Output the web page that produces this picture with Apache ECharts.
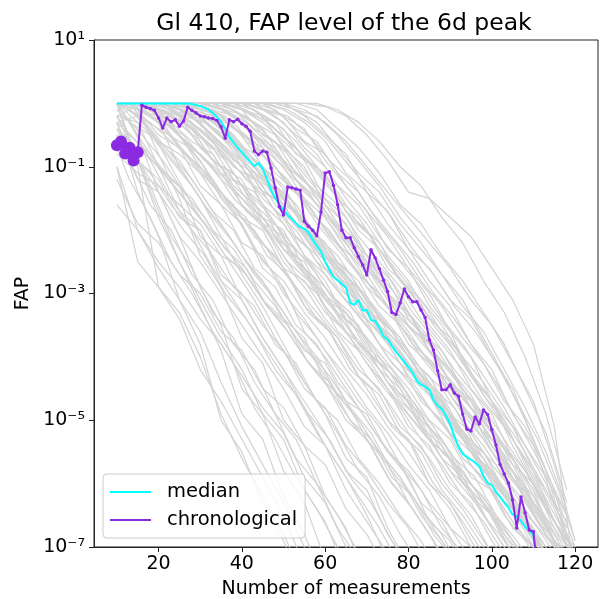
<!DOCTYPE html>
<html>
<head>
<meta charset="utf-8">
<script src="https://cdn.jsdelivr.net/npm/echarts@6/dist/echarts.min.js"></script>
<style>
html,body{margin:0;padding:0;background:#fff;}
#chart{width:606px;height:599px;}
</style>
</head>
<body>
<div id="chart"></div>
<script>
// ---- data (log10 of FAP) ----
const xTicks = [20, 40, 60, 80, 100, 120];
const yTicks = [-7, -5, -3, -1, 1];
const yTickLabels = ['10\u207B\u2077', '10\u207B\u2075', '10\u207B\u00B3', '10\u207B\u00B9', '10\u00B9'];
const firstN = 10; // first number of measurements

const medianLogFAP = [
  0,0,0,0,0,0,0,0,0,0,0,0,0,0,0,0,0,0,
  -0.01,-0.03,-0.04,-0.07,-0.10,-0.15,-0.21,-0.29,-0.40,-0.53,-0.62,-0.70,-0.77,-0.85,-0.92,-0.99,
  -0.94,-1.03,-1.19,-1.37,-1.49,-1.60,-1.68,-1.76,-1.82,-1.89,-1.95,-1.98,-2.04,-2.15,-2.25,-2.34,
  -2.50,-2.63,-2.74,-2.79,-2.85,-2.91,-3.15,-3.18,-3.10,-3.27,-3.26,-3.42,-3.43,-3.54,-3.68,-3.72,
  -3.83,-3.92,-4.00,-4.08,-4.16,-4.25,-4.38,-4.44,-4.47,-4.52,-4.68,-4.77,-4.82,-4.93,-5.06,-5.25,
  -5.42,-5.53,-5.58,-5.62,-5.67,-5.73,-5.88,-5.99,-6.02,-6.13,-6.21,-6.30,-6.38,-6.49,-6.52,-6.59,
  -6.68,-6.74,-6.81,-7.3
];

const chronoLogFAP = [
  -0.66,-0.60,-0.79,-0.70,-0.90,-0.77,-0.03,-0.06,-0.08,-0.11,-0.23,-0.39,-0.23,-0.29,-0.26,-0.36,
  -0.28,-0.06,-0.11,-0.15,-0.20,-0.21,-0.23,-0.24,-0.27,-0.37,-0.55,-0.26,-0.29,-0.25,-0.32,-0.36,
  -0.44,-0.75,-0.81,-0.75,-0.77,-1.02,-1.33,-1.63,-1.76,-1.32,-1.33,-1.35,-1.37,-1.86,-1.94,-2.00,
  -2.09,-1.71,-1.10,-1.08,-1.29,-1.60,-2.00,-2.12,-2.12,-2.28,-2.42,-2.55,-2.71,-2.31,-2.44,-2.61,
  -2.79,-2.97,-3.30,-3.33,-3.15,-2.93,-3.05,-3.13,-3.13,-3.26,-3.38,-3.73,-3.89,-4.22,-4.52,-4.52,
  -4.44,-4.57,-4.62,-4.90,-5.14,-5.17,-4.95,-5.06,-4.84,-4.91,-5.15,-5.39,-5.70,-5.85,-5.99,-6.26,
  -6.70,-6.21,-6.46,-6.73,-6.76,-7.4
];

// simulated random orderings, set A sampled at simX
const simX = [10,15,20,25,30,35,40,45,50,55,60,65,70,75,80,85,90,95,100,105,110,115,120];
const simLogFAP = [
  [-0.3,-1.4,-2.1,-3.1,-3.8,-5.0,-5.5,-6.3,-6.9,-7.7],
  [0,-0.9,-1.7,-2.5,-3.2,-3.9,-4.9,-5.3,-6.2,-6.8,-7.6],
  [-1.0,-2.5,-2.9,-3.4,-4.2,-4.7,-5.3,-5.9,-6.5,-7.3],
  [0,-0.5,-1.4,-2.1,-2.9,-3.5,-4.5,-4.9,-5.8,-6.3,-7.2],
  [-0.2,-0.9,-1.8,-2.5,-3.1,-3.7,-4.2,-4.9,-5.3,-6.1,-6.6,-7.4],
  [0,-0.1,-0.8,-1.5,-2.4,-2.9,-3.7,-4.1,-5.0,-5.4,-6.2,-6.7,-7.5],
  [-1.6,-2.0,-2.5,-2.9,-3.4,-3.8,-4.3,-4.8,-5.2,-5.9,-6.3,-7.0,-7.5],
  [0,-0.3,-1.0,-1.3,-2.1,-2.4,-3.1,-3.7,-4.2,-4.8,-5.4,-5.9,-6.5,-7.2],
  [-0.5,-1.2,-1.4,-2.1,-2.5,-3.0,-3.5,-4.0,-4.5,-5.1,-5.4,-6.1,-6.6,-7.1,-7.6],
  [0,0,-0.3,-1.0,-1.5,-2.1,-2.7,-3.2,-3.8,-4.4,-4.9,-5.6,-5.9,-6.7,-7.3],
  [0,-0.2,-0.6,-0.9,-1.4,-1.9,-2.4,-2.8,-3.4,-3.7,-4.4,-4.7,-5.3,-5.7,-6.3,-6.8,-7.4],
  [-0.4,-0.7,-1.0,-1.4,-1.8,-2.2,-2.6,-3.1,-3.5,-4.0,-4.4,-5.0,-5.3,-5.9,-6.3,-6.8,-7.3],
  [0,0,-0.1,-0.5,-0.9,-1.5,-1.9,-2.6,-2.9,-3.6,-4.0,-4.5,-5.0,-5.5,-5.9,-6.6,-6.9,-7.6],
  [0,-0.1,-0.3,-0.7,-1.0,-1.4,-1.8,-2.2,-2.6,-3.2,-3.5,-4.0,-4.5,-5.0,-5.3,-6.0,-6.3,-6.9,-7.4],
  [-0.8,-1.1,-1.3,-1.6,-1.9,-2.4,-2.6,-3.1,-3.4,-3.9,-4.1,-4.7,-4.9,-5.5,-5.8,-6.3,-6.7,-7.2],
  [0,0,0,-0.2,-0.7,-1.0,-1.6,-1.9,-2.5,-2.9,-3.4,-3.8,-4.3,-4.7,-5.2,-5.6,-6.1,-6.5,-7.1,-7.5],
  [0,-0.1,-0.2,-0.5,-0.8,-1.1,-1.5,-1.8,-2.3,-2.5,-3.1,-3.3,-3.9,-4.2,-4.7,-5.1,-5.6,-6.0,-6.5,-6.9,-7.4],
  [0,0,0,-0.1,-0.3,-0.7,-1.0,-1.6,-1.9,-2.4,-2.8,-3.4,-3.7,-4.2,-4.6,-5.1,-5.5,-6.0,-6.4,-6.9,-7.3],
  [-0.2,-0.3,-0.6,-0.8,-1.1,-1.4,-1.8,-2.0,-2.6,-2.8,-3.3,-3.6,-4.1,-4.5,-4.9,-5.3,-5.8,-6.1,-6.7,-7.2],
  [0,0,-0.1,-0.2,-0.5,-1.0,-1.2,-1.8,-2.0,-2.6,-2.9,-3.3,-3.7,-4.1,-4.5,-5.0,-5.3,-5.9,-6.1,-6.7,-7.0,-7.5],
  [0,0,0,0,-0.1,-0.4,-0.9,-1.2,-1.7,-2.1,-2.6,-2.9,-3.4,-3.8,-4.3,-4.6,-5.2,-5.5,-6.1,-6.4,-7.0,-7.4],
  [0,0,0,-0.1,-0.2,-0.5,-0.8,-1.1,-1.6,-1.8,-2.4,-2.7,-3.1,-3.5,-4.0,-4.3,-4.9,-5.2,-5.7,-6.1,-6.6,-7.0,-7.4],
  [0,0,0,0,0,-0.2,-0.5,-1.0,-1.3,-1.9,-2.2,-2.7,-3.1,-3.6,-4.0,-4.5,-4.9,-5.5,-5.8,-6.4,-6.8,-7.3],
  [0,0,0,0,-0.1,-0.2,-0.5,-0.7,-1.2,-1.5,-2.0,-2.4,-2.9,-3.2,-3.8,-4.1,-4.6,-5.0,-5.5,-5.9,-6.5,-6.9,-7.4],
  [0,0,-0.1,-0.2,-0.4,-0.7,-0.9,-1.4,-1.6,-2.1,-2.5,-2.9,-3.3,-3.7,-4.1,-4.6,-4.9,-5.5,-5.8,-6.3,-6.7,-7.2],
  [0,0,0,0,0,-0.1,-0.3,-0.7,-1.0,-1.5,-1.8,-2.3,-2.7,-3.2,-3.6,-4.1,-4.4,-5.0,-5.3,-5.9,-6.3,-6.9,-7.2],
  [0,0,0,0,0,0,-0.2,-0.4,-0.9,-1.2,-1.7,-2.1,-2.6,-3.0,-3.5,-3.8,-4.4,-4.8,-5.3,-5.7,-6.3,-6.7,-7.2],
  [0,0,0,0,0,0,-0.1,-0.3,-0.6,-0.9,-1.5,-1.8,-2.4,-2.7,-3.3,-3.7,-4.2,-4.6,-5.2,-5.6,-6.3,-6.8,-7.4],
  [0,0,0,0,0,0,0,-0.2,-0.4,-0.9,-1.1,-1.7,-2.0,-2.6,-2.9,-3.5,-3.9,-4.5,-4.9,-5.6,-6.1,-6.9,-7.5],
  [0,0,0,0,0,0,0,-0.1,-0.2,-0.6,-0.8,-1.3,-1.7,-2.3,-2.6,-3.2,-3.6,-4.3,-4.7,-5.4,-6.0,-6.7,-7.4],
  [0,0,0,0,0,0,0,0,0,0,-0.05,-0.2,-0.5,-0.9,-1.4,-1.5,-1.8,-2.1,-2.6,-3.1,-3.8,-5.1,-7.5],
  [0,0,0,0,0,0,0,0,0,-0.1,-0.3,-0.6,-1.0,-1.4,-1.8,-2.2,-2.6,-3.1,-3.5,-4.1,-4.7,-5.7,-6.9],
  [0,0,0,0,0,0,0,0,-0.1,-0.3,-0.6,-1.1,-1.4,-1.9,-2.3,-2.8,-3.2,-3.8,-4.2,-4.9,-5.4,-6.3,-7.1],
  [0,0,0,0,0,0,0,0,0,-0.2,-0.5,-0.8,-1.4,-1.7,-2.3,-2.6,-3.1,-3.4,-4.0,-4.5,-5.3,-6.1,-7.3],
  [0,0,0,0,0,0,0,-0.1,-0.3,-0.7,-1.0,-1.5,-1.9,-2.4,-2.8,-3.4,-3.7,-4.3,-4.7,-5.3,-5.8,-6.6,-7.2],
  [0,0,-0.1,-0.3,-0.6,-1.1,-1.3,-1.9,-2.1,-2.7,-3.0,-3.6,-3.9,-4.4,-4.8,-5.3,-5.6,-6.2,-6.5,-7.0,-7.5],
  [0,0,0,-0.1,-0.3,-0.8,-1.1,-1.5,-1.8,-2.4,-2.7,-3.1,-3.5,-4.0,-4.4,-4.8,-5.2,-5.7,-6.1,-6.6,-7.0,-7.5],
  [-0.3,-0.2,-0.4,-0.6,-0.8,-1.2,-1.5,-1.9,-2.3,-2.7,-3.1,-3.5,-3.9,-4.4,-4.7,-5.3,-5.6,-6.1,-6.5,-7.1,-7.5],
  [0,0,0,0,-0.2,-0.3,-0.7,-1.0,-1.5,-1.9,-2.4,-2.8,-3.3,-3.7,-4.2,-4.5,-5.1,-5.4,-6.0,-6.3,-6.9,-7.3],
  [0,0,0,0,0,-0.1,-0.3,-0.6,-0.9,-1.4,-1.7,-2.1,-2.5,-3.0,-3.3,-3.9,-4.2,-4.7,-5.1,-5.7,-6.0,-6.6,-7.0],
  [0,-0.1,-0.5,-0.7,-1.3,-1.6,-2.2,-2.4,-3.0,-3.4,-3.9,-4.3,-4.8,-5.2,-5.7,-6.1,-6.7,-7.0,-7.6],
  [-0.6,-0.9,-1.2,-1.8,-2.0,-2.7,-3.0,-3.5,-3.9,-4.5,-4.8,-5.4,-5.8,-6.3,-6.7,-7.3],
  [0,0,0,0,0,0,-0.1,-0.2,-0.7,-1.0,-1.6,-1.9,-2.5,-2.8,-3.4,-3.8,-4.4,-4.7,-5.4,-5.8,-6.5,-7.0,-7.5],
  [0,0,0,-0.1,-0.5,-0.8,-1.3,-1.6,-2.3,-2.6,-3.2,-3.6,-4.1,-4.5,-5.1,-5.4,-6.0,-6.3,-6.9,-7.4],
  [0,0,0,0,0,0,0,0,-0.2,-0.4,-0.9,-1.3,-1.7,-2.1,-2.6,-3.0,-3.6,-4.0,-4.7,-5.1,-5.8,-6.4,-7.2],
  [-1.2,-1.9,-2.2,-2.7,-3.0,-3.6,-3.9,-4.5,-4.8,-5.4,-5.7,-6.4,-6.8,-7.4],
  [0,-0.5,-1.0,-1.7,-2.0,-2.8,-3.1,-3.7,-4.2,-4.7,-5.2,-5.8,-6.1,-6.8,-7.3],
  [0,0,-0.2,-0.7,-1.1,-1.6,-1.9,-2.5,-2.8,-3.3,-3.7,-4.2,-4.6,-5.1,-5.5,-6.0,-6.4,-7.0,-7.4],
  [0,0,0,0,-0.1,-0.4,-0.7,-1.2,-1.4,-2.0,-2.4,-2.8,-3.2,-3.7,-4.1,-4.6,-4.9,-5.5,-5.9,-6.4,-6.8,-7.4],
  [0,0,0,0,0,0,-0.1,-0.5,-0.7,-1.2,-1.6,-2.1,-2.4,-3.0,-3.3,-3.9,-4.2,-4.8,-5.2,-5.8,-6.2,-6.9,-7.3],
  [0,-1.0,-2.9,-3.3,-4.0,-4.9,-5.6,-6.2,-6.8,-7.5],
  [-1.0,-2.0,-2.6,-3.1,-3.6,-4.4,-5.1,-5.7,-6.3,-7.0,-7.6]
];

// simulated random orderings, set B sampled at simX2
const simX2 = [10,13,18,23,28,33,38,43,48,53,58,63,68,73,78,83,88,93,98,103,108,113,118];
const simLogFAP2 = [
  [0,0,0,-0.1,-0.3,-0.6,-1.0,-1.2,-1.7,-2.0,-2.5,-2.8,-3.3,-3.6,-4.1,-4.4,-4.9,-5.3,-5.8,-6.1,-6.7,-7.1],
  [0,0,0,0,-0.1,-0.3,-0.5,-0.9,-1.2,-1.6,-2.1,-2.4,-2.9,-3.3,-3.7,-4.2,-4.5,-5.0,-5.4,-5.9,-6.3,-6.8,-7.3],
  [0,0,-0.1,-0.3,-0.6,-0.8,-1.3,-1.6,-2.1,-2.4,-2.9,-3.2,-3.8,-4.1,-4.6,-4.9,-5.5,-5.8,-6.3,-6.7,-7.2],
  [0,0,0,0,0,-0.1,-0.4,-0.6,-1.1,-1.4,-1.9,-2.3,-2.7,-3.2,-3.5,-4.0,-4.4,-4.9,-5.3,-5.8,-6.2,-6.8,-7.2],
  [0,0,0,-0.2,-0.4,-0.9,-1.1,-1.6,-1.9,-2.5,-2.8,-3.3,-3.6,-4.2,-4.5,-5.1,-5.4,-6.0,-6.3,-6.9,-7.3],
  [0,0,0,0,-0.1,-0.2,-0.6,-0.8,-1.3,-1.7,-2.1,-2.6,-2.9,-3.5,-3.8,-4.3,-4.7,-5.2,-5.6,-6.1,-6.6,-7.1],
  [-0.2,-0.1,-0.3,-0.6,-0.9,-1.3,-1.6,-2.1,-2.4,-2.9,-3.3,-3.7,-4.2,-4.5,-5.1,-5.4,-6.0,-6.4,-6.9,-7.4],
  [0,0,0,0,0,0,-0.2,-0.5,-0.7,-1.2,-1.5,-2.0,-2.4,-2.8,-3.3,-3.6,-4.1,-4.5,-5.0,-5.4,-5.9,-6.4,-6.9],
  [0,0,0,0,0,0,0,-0.1,-0.4,-0.7,-1.1,-1.5,-2.0,-2.3,-2.8,-3.2,-3.6,-4.1,-4.5,-5.0,-5.5,-6.1,-6.7],
  [0,0,0,0,0,0,0,0,-0.2,-0.5,-0.8,-1.3,-1.6,-2.1,-2.5,-2.9,-3.4,-3.8,-4.3,-4.8,-5.4,-6.0,-6.8],
  [0,0,0,0,0,0,0,0,0,-0.1,-0.3,-0.7,-1.1,-1.4,-1.9,-2.3,-2.7,-3.2,-3.6,-4.2,-4.8,-5.5,-6.4],
  [0,0,0,0,0,0,0,0,0,0,-0.1,-0.4,-0.7,-1.1,-1.6,-1.9,-2.4,-2.8,-3.3,-3.8,-4.5,-5.2,-6.3],
  [0,0,-0.2,-0.5,-0.9,-1.2,-1.7,-2.0,-2.5,-2.9,-3.4,-3.7,-4.3,-4.6,-5.2,-5.5,-6.1,-6.5,-7.0,-7.5],
  [0,-0.1,-0.4,-0.8,-1.2,-1.7,-2.0,-2.6,-2.9,-3.5,-3.8,-4.4,-4.8,-5.3,-5.7,-6.3,-6.6,-7.2],
  [-0.5,-0.8,-1.1,-1.6,-2.0,-2.4,-2.9,-3.2,-3.8,-4.1,-4.7,-5.0,-5.6,-6.0,-6.5,-6.9,-7.5],
  [0,0,0,-0.1,-0.2,-0.5,-0.9,-1.1,-1.6,-1.9,-2.3,-2.8,-3.1,-3.6,-4.0,-4.4,-4.9,-5.2,-5.8,-6.2,-6.7,-7.2],
  [0,0,0,0,-0.1,-0.4,-0.7,-1.1,-1.4,-1.9,-2.2,-2.7,-3.1,-3.5,-4.0,-4.3,-4.8,-5.2,-5.7,-6.1,-6.6,-7.0,-7.5],
  [0,0,0,0,0,-0.1,-0.3,-0.7,-1.0,-1.4,-1.8,-2.2,-2.7,-3.0,-3.5,-3.9,-4.3,-4.8,-5.2,-5.7,-6.2,-6.7,-7.3],
  [0,0,-0.1,-0.4,-0.7,-1.0,-1.5,-1.8,-2.2,-2.7,-3.0,-3.6,-3.9,-4.4,-4.8,-5.3,-5.7,-6.2,-6.6,-7.1],
  [0,0,0,0,-0.2,-0.5,-0.8,-1.3,-1.5,-2.1,-2.4,-2.9,-3.2,-3.8,-4.1,-4.7,-5.0,-5.6,-5.9,-6.5,-6.9,-7.4],
  [0,0,0,0,0,0,-0.1,-0.3,-0.5,-0.9,-1.3,-1.6,-2.1,-2.5,-2.9,-3.4,-3.8,-4.2,-4.7,-5.1,-5.6,-6.1,-6.6],
  [0,0,0,0,0,0,0,-0.2,-0.3,-0.8,-1.0,-1.5,-1.8,-2.3,-2.7,-3.1,-3.5,-4.0,-4.4,-4.9,-5.4,-5.9,-6.5],
  [-0.1,-0.3,-0.5,-0.9,-1.3,-1.8,-2.2,-2.7,-3.1,-3.6,-4.0,-4.6,-5.0,-5.5,-5.9,-6.5,-6.9,-7.4],
  [0,-0.3,-0.9,-1.5,-2.0,-2.6,-3.1,-3.6,-4.2,-4.6,-5.2,-5.7,-6.2,-6.7,-7.3],
  [-0.7,-1.2,-1.8,-2.5,-3.0,-3.6,-4.1,-4.8,-5.3,-5.9,-6.4,-7.0,-7.5],
  [0,-0.6,-1.3,-2.1,-2.6,-3.3,-3.7,-4.4,-4.9,-5.6,-6.0,-6.7,-7.2],
  [-0.4,-0.9,-1.6,-2.0,-2.7,-3.1,-3.8,-4.2,-4.9,-5.3,-6.0,-6.5,-7.1],
  [0,0,-0.4,-1.0,-1.6,-2.1,-2.6,-3.1,-3.7,-4.2,-4.7,-5.2,-5.8,-6.2,-6.8,-7.3],
  [0,0,0,-0.3,-0.8,-1.3,-1.7,-2.3,-2.7,-3.3,-3.7,-4.2,-4.7,-5.1,-5.7,-6.1,-6.7,-7.1],
  [0,0,0,0,0,0,0,0,0,0,0,-0.1,-0.3,-0.6,-1.0,-1.3,-1.8,-2.2,-2.8,-3.3,-4.0,-4.9,-6.1],
  [0,0,0,0,0,0,0,0,0,-0.1,-0.2,-0.5,-0.9,-1.3,-1.8,-2.2,-2.7,-3.1,-3.7,-4.3,-5.0,-5.8,-6.9],
  [0,0,0,0,0,0,0,-0.1,-0.3,-0.6,-1.0,-1.4,-1.9,-2.2,-2.8,-3.1,-3.6,-4.0,-4.6,-5.0,-5.7,-6.3,-7.0],
  [0,0,0,0,0,-0.1,-0.2,-0.5,-0.8,-1.2,-1.6,-2.0,-2.5,-2.8,-3.4,-3.7,-4.2,-4.6,-5.1,-5.6,-6.1,-6.7,-7.2],
  [0,0,0,0,-0.1,-0.3,-0.6,-1.0,-1.4,-1.7,-2.2,-2.6,-3.0,-3.5,-3.9,-4.4,-4.7,-5.3,-5.6,-6.2,-6.6,-7.2],
  [0,0,0,-0.1,-0.4,-0.7,-1.2,-1.4,-1.9,-2.3,-2.7,-3.2,-3.5,-4.1,-4.4,-5.0,-5.3,-5.9,-6.2,-6.8,-7.2],
  [0,0,0,0,0,0,-0.1,-0.4,-0.6,-1.1,-1.4,-1.9,-2.2,-2.7,-3.1,-3.6,-3.9,-4.5,-4.9,-5.4,-5.8,-6.4,-6.9],
  [0,0,0,0,0,0,0,0,-0.1,-0.4,-0.6,-1.1,-1.4,-1.9,-2.3,-2.8,-3.2,-3.7,-4.1,-4.7,-5.1,-5.8,-6.5],
  [-0.3,-0.5,-0.8,-1.2,-1.5,-2.0,-2.3,-2.8,-3.2,-3.7,-4.1,-4.6,-5.0,-5.5,-5.9,-6.4,-6.8,-7.4],
  [0,0,-0.1,-0.2,-0.5,-0.9,-1.2,-1.7,-2.0,-2.5,-2.9,-3.3,-3.8,-4.2,-4.7,-5.0,-5.6,-5.9,-6.5,-6.9,-7.4],
  [0,0,0,0,-0.1,-0.2,-0.5,-0.9,-1.3,-1.6,-2.1,-2.5,-2.8,-3.4,-3.7,-4.3,-4.6,-5.2,-5.5,-6.1,-6.5,-7.1]
];

// simulated random orderings, set C sampled at simX3
const simX3 = [10,12,16,21,26,31,36,41,46,51,56,61,66,71,76,81,86,91,96,101,106,111,116,120];
const simLogFAP3 = [
  [0,0,0,0,-0.1,-0.4,-0.7,-1.1,-1.3,-1.8,-2.1,-2.6,-2.9,-3.4,-3.8,-4.2,-4.6,-5.1,-5.5,-6.0,-6.4,-6.9,-7.4],
  [0,0,0,-0.1,-0.3,-0.6,-0.9,-1.4,-1.7,-2.2,-2.5,-3.0,-3.3,-3.9,-4.2,-4.7,-5.1,-5.6,-5.9,-6.5,-6.9,-7.4],
  [0,0,0,0,0,-0.1,-0.3,-0.5,-0.9,-1.2,-1.7,-2.0,-2.5,-2.9,-3.3,-3.8,-4.1,-4.6,-5.0,-5.5,-5.9,-6.5,-7.0],
  [0,0,0,0,0,0,-0.1,-0.3,-0.6,-1.0,-1.3,-1.8,-2.2,-2.6,-3.1,-3.4,-3.9,-4.3,-4.8,-5.3,-5.7,-6.3,-6.9],
  [0,0,-0.1,-0.3,-0.5,-0.9,-1.2,-1.7,-2.0,-2.5,-2.8,-3.3,-3.7,-4.1,-4.6,-5.0,-5.4,-5.9,-6.3,-6.8,-7.3],
  [0,0,0,0,-0.2,-0.3,-0.6,-1.0,-1.4,-1.7,-2.2,-2.5,-3.0,-3.4,-3.8,-4.3,-4.6,-5.1,-5.6,-6.0,-6.5,-7.0,-7.5],
  [-0.2,-0.4,-0.7,-1.1,-1.5,-1.9,-2.4,-2.7,-3.2,-3.6,-4.1,-4.4,-5.0,-5.3,-5.9,-6.2,-6.8,-7.2],
  [0,0,0,0,0,0,0,-0.1,-0.3,-0.6,-0.9,-1.3,-1.8,-2.1,-2.6,-3.0,-3.5,-3.9,-4.4,-4.9,-5.4,-6.0,-6.6,-7.1],
  [0,0,0,0,0,0,0,0,-0.1,-0.2,-0.5,-0.9,-1.2,-1.7,-2.1,-2.5,-3.0,-3.4,-3.9,-4.4,-5.0,-5.6,-6.3,-7.0],
  [0,0,0,-0.2,-0.6,-1.0,-1.5,-1.8,-2.4,-2.7,-3.3,-3.6,-4.2,-4.5,-5.1,-5.4,-6.0,-6.4,-6.9,-7.4],
  [0,0,0,0,-0.1,-0.2,-0.4,-0.8,-1.1,-1.6,-1.9,-2.4,-2.7,-3.2,-3.6,-4.0,-4.5,-4.8,-5.4,-5.7,-6.3,-6.7,-7.2],
  [0,0,0,0,0,0,-0.1,-0.2,-0.5,-0.8,-1.2,-1.6,-2.0,-2.5,-2.8,-3.3,-3.7,-4.2,-4.6,-5.1,-5.6,-6.1,-6.7,-7.2],
  [0,0,-0.3,-0.7,-1.1,-1.6,-2.0,-2.5,-2.9,-3.4,-3.9,-4.3,-4.8,-5.2,-5.8,-6.2,-6.7,-7.2],
  [0,0,0,0,0,-0.1,-0.2,-0.6,-0.8,-1.3,-1.6,-2.1,-2.4,-2.9,-3.3,-3.8,-4.1,-4.7,-5.0,-5.6,-6.0,-6.6,-7.1],
  [0,0,0,0,0,0,0,0,0,-0.1,-0.3,-0.6,-1.0,-1.4,-1.8,-2.3,-2.7,-3.2,-3.6,-4.1,-4.7,-5.3,-6.1,-6.9],
  [0,0,0,-0.1,-0.2,-0.5,-0.8,-1.2,-1.5,-2.0,-2.3,-2.8,-3.2,-3.6,-4.1,-4.4,-4.9,-5.3,-5.8,-6.2,-6.7,-7.1],
  [-0.3,-0.6,-1.0,-1.5,-2.0,-2.4,-3.0,-3.4,-3.9,-4.4,-4.9,-5.3,-5.9,-6.3,-6.9,-7.4],
  [0,0,0,0,-0.1,-0.3,-0.5,-0.9,-1.2,-1.6,-2.0,-2.4,-2.8,-3.3,-3.6,-4.1,-4.5,-5.0,-5.4,-5.9,-6.3,-6.9,-7.3],
  [0,0,0,0,0,0,-0.1,-0.4,-0.7,-1.1,-1.4,-1.9,-2.3,-2.7,-3.2,-3.6,-4.0,-4.5,-4.9,-5.4,-5.9,-6.4,-7.0],
  [0,-0.2,-0.5,-0.9,-1.4,-1.8,-2.3,-2.6,-3.2,-3.5,-4.1,-4.5,-5.0,-5.4,-6.0,-6.4,-6.9,-7.4]
];

// ---- chart ----
const FONT = 'DejaVu Sans';
const chart = echarts.init(document.getElementById('chart'), null, {renderer: 'canvas'});

const series = [];
function addSims(xs, runs) {
  runs.forEach(function (run) {
    series.push({
      type: 'line',
      data: run.map(function (v, i) { return [xs[i], v]; }),
      symbol: 'none',
      silent: true,
      clip: true,
      z: 1,
      lineStyle: {color: '#d3d3d3', width: 1.2},
      emphasis: {disabled: true}
    });
  });
}
addSims(simX, simLogFAP);
addSims(simX2, simLogFAP2);
addSims(simX3, simLogFAP3);

series.push({
  name: 'median',
  type: 'line',
  data: medianLogFAP.map(function (v, i) { return [firstN + i, v]; }),
  symbol: 'none',
  clip: true,
  z: 3,
  lineStyle: {color: '#00ffff', width: 2},
  itemStyle: {color: '#00ffff'}
});
series.push({
  name: 'chronological',
  type: 'line',
  data: chronoLogFAP.map(function (v, i) { return [firstN + i, v]; }),
  symbol: 'circle',
  showAllSymbol: true,
  symbolSize: function (val, p) { return p.dataIndex < 6 ? 12 : 3.5; },
  clip: true,
  z: 4,
  lineStyle: {color: '#8a2be2', width: 2},
  itemStyle: {color: '#8a2be2', borderWidth: 0}
});

const axisLineStyle = {color: '#222', width: 1};

chart.setOption({
  animation: false,
  backgroundColor: '#fff',
  grid: {left: 94, right: 8, top: 40, bottom: 52, show: true, borderColor: '#222', borderWidth: 1, containLabel: false, outerBoundsMode: 'none'},
  graphic: [{
    type: 'text',
    x: 344, y: 24,
    style: {text: 'Gl 410, FAP level of the 6d peak', font: '23.5px "DejaVu Sans"', fill: '#000', align: 'center', verticalAlign: 'middle'}
  }],
  legend: {
    left: 103, top: 474,
    orient: 'vertical',
    data: [{name: 'median', icon: 'rect'}, {name: 'chronological', icon: 'rect'}],
    itemWidth: 41, itemHeight: 2, itemGap: 8,
    padding: [8, 8, 8, 7],
    borderColor: '#cccccc', borderWidth: 1, borderRadius: 4,
    backgroundColor: 'rgba(255,255,255,0.8)',
    textStyle: {fontFamily: FONT, fontSize: 19.5, color: '#000', padding: [0, 0, 0, 11], lineHeight: 20},
    selectedMode: false
  },
  xAxis: {
    type: 'value', min: 4.5, max: 125.5,
    name: 'Number of measurements', nameLocation: 'middle', nameGap: 33,
    nameTextStyle: {fontFamily: FONT, fontSize: 19, color: '#000'},
    axisLine: {show: true, onZero: false, lineStyle: axisLineStyle},
    axisTick: {show: true, length: 5, customValues: xTicks, lineStyle: axisLineStyle},
    axisLabel: {customValues: xTicks, fontFamily: FONT, fontSize: 19, color: '#000', margin: 8},
    splitLine: {show: false}
  },
  yAxis: {
    type: 'value', min: -7, max: 1,
    name: 'FAP', nameLocation: 'middle', nameGap: 58,
    nameTextStyle: {fontFamily: FONT, fontSize: 19, color: '#000'},
    axisLine: {show: true, onZero: false, lineStyle: axisLineStyle},
    axisTick: {show: true, length: 5, customValues: yTicks, lineStyle: axisLineStyle},
    axisLabel: {
      customValues: yTicks, margin: 9,
      fontFamily: FONT, fontSize: 19, color: '#000',
      formatter: function (v) { return yTickLabels[yTicks.indexOf(Math.round(v))]; }
    },
    splitLine: {show: false}
  },
  series: series
});
</script>
</body>
</html>
